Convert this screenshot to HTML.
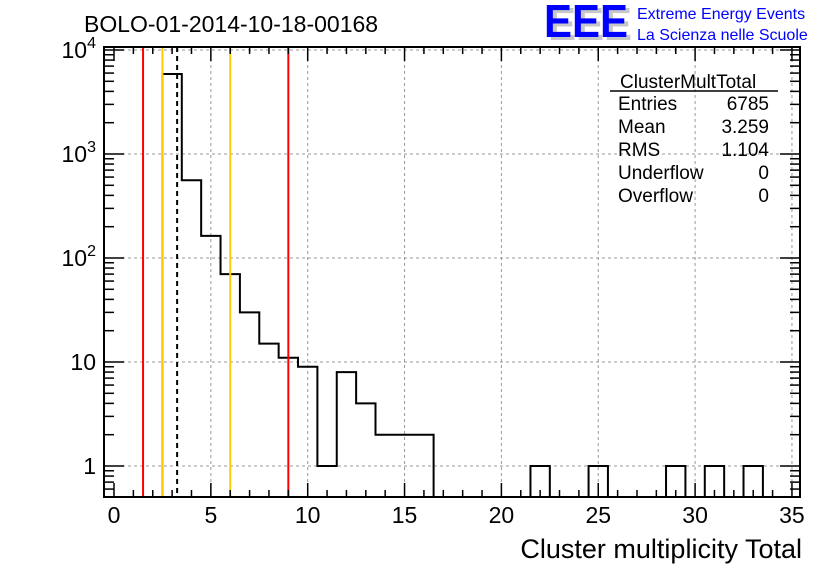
<!DOCTYPE html>
<html><head><meta charset="utf-8"><style>
body{margin:0;background:#fff;}
svg{display:block;font-family:"Liberation Sans",sans-serif;}
</style></head><body>
<svg id="c" width="836" height="572" xmlns="http://www.w3.org/2000/svg">
<rect width="836" height="572" fill="#fff"/>
<text x="84" y="32" font-size="23">BOLO-01-2014-10-18-00168</text>
<g>
<text x="548" y="40" font-size="46" font-weight="bold" fill="#c8c8c8" textLength="84" lengthAdjust="spacingAndGlyphs">EEE</text>
<text x="544" y="37" font-size="46" font-weight="bold" fill="#0000ff" textLength="84" lengthAdjust="spacingAndGlyphs">EEE</text>
<text x="637" y="19" font-size="16" fill="#0000ff">Extreme Energy Events</text>
<text x="637" y="40" font-size="16" fill="#0000ff">La Scienza nelle Scuole</text>
</g>
<g id="grid"></g>
<g id="marks"></g>
<g id="axes"></g>
<g font-size="19">
<text x="620" y="88">ClusterMultTotal</text>
<line x1="610" y1="91" x2="778" y2="91" stroke="#000" stroke-width="1.5"/>
<text x="618" y="110">Entries</text><text x="769" y="110" text-anchor="end">6785</text>
<text x="618" y="133">Mean</text><text x="769" y="133" text-anchor="end">3.259</text>
<text x="618" y="156">RMS</text><text x="769" y="156" text-anchor="end">1.104</text>
<text x="618" y="179">Underflow</text><text x="769" y="179" text-anchor="end">0</text>
<text x="618" y="202">Overflow</text><text x="769" y="202" text-anchor="end">0</text>
</g>
<text x="802" y="558" font-size="27" text-anchor="end">Cluster multiplicity Total</text>
</svg>
<script>
const binCenters=[3,4,5,6,7,8,9,10,11,12,13,14,15,16,22,25,29,31,33];
const binCounts=[5880,560,163,70,30,15,11,9,1,8,4,2,2,2,1,1,1,1,1];
const xTicks=[0,5,10,15,20,25,30,35];
const yTicks=[1,10,100,1000,10000];
const yTickBase=["1","10","10","10","10"];
const yTickExp=["","","2","3","4"];
const redLines=[1.5,9.0];
const orangeLines=[2.5,6.0];
const meanLine=[3.259];

const L=104,R=800,T=47,B=497;
const X=v=>114+v*19.37;
const Y=v=>466-Math.log10(v)*104;
const NS="http://www.w3.org/2000/svg";
function mk(p,tag,at){const e=document.createElementNS(NS,tag);for(const k in at)e.setAttribute(k,at[k]);p.appendChild(e);return e;}
const grid=document.getElementById('grid'),marks=document.getElementById('marks'),axes=document.getElementById('axes');

xTicks.forEach(t=>{if(t===0)return;const g=mk(grid,'line',{x1:X(t),x2:X(t),y1:T,y2:B,stroke:'#999','stroke-dasharray':'3,3'});

});
yTicks.forEach(t=>{const g=mk(grid,'line',{x1:L,x2:R,y1:Y(t),y2:Y(t),stroke:'#999','stroke-dasharray':'3,3'});

});

let d='';let prevEnd=null;
binCenters.forEach((c,i)=>{const x0=X(c-0.5),x1=X(c+0.5),y=Y(binCounts[i]);
if(prevEnd!==null&&Math.abs(prevEnd-(c-0.5))<1e-6){d+=`L${x0},${y}`;}else{if(prevEnd!==null)d+=`L${X(prevEnd)},${B}`;d+=`M${x0},${B}L${x0},${y}`;}
d+=`L${x1},${y}`;prevEnd=c+0.5;});
d+=`L${X(prevEnd)},${B}`;
const h=mk(marks,'path',{d:d,fill:'none',stroke:'#000','stroke-width':2});



redLines.forEach(v=>{const l=mk(marks,'line',{x1:X(v),x2:X(v),y1:T,y2:B,stroke:'#ff0000','stroke-width':2});

});
orangeLines.forEach(v=>{const l=mk(marks,'line',{x1:X(v),x2:X(v),y1:T,y2:B,stroke:'#ffcc00','stroke-width':2});

});
meanLine.forEach(v=>{const l=mk(marks,'line',{x1:X(v),x2:X(v),y1:T,y2:B,stroke:'#000','stroke-width':2,'stroke-dasharray':'5,4'});

});

const fr=mk(axes,'rect',{x:L,y:T,width:R-L,height:B-T,fill:'none',stroke:'#000','stroke-width':2});



for(let v=0;v<=35.001;v+=1){const major=v%5===0;const len=major?14:7;
mk(axes,'line',{x1:X(v),x2:X(v),y1:B,y2:B-len,stroke:'#000','stroke-width':1.5});
mk(axes,'line',{x1:X(v),x2:X(v),y1:T,y2:T+len,stroke:'#000','stroke-width':1.5});}
xTicks.forEach(t=>{const tx=mk(axes,'text',{x:X(t),y:523,'font-size':23,'text-anchor':'middle'});tx.textContent=t;

});
for(let e=-1;e<=4;e++){for(let m=1;m<=9;m++){const v=m*Math.pow(10,e);const y=Y(v);if(y<T||y>B)continue;const len=m===1?20:10;
mk(axes,'line',{x1:L,x2:L+len,y1:y,y2:y,stroke:'#000','stroke-width':1.5});
mk(axes,'line',{x1:R,x2:R-len,y1:y,y2:y,stroke:'#000','stroke-width':1.5});}}
yTicks.forEach((t,i)=>{const tx=mk(axes,'text',{x:96,y:Y(t)+8,'font-size':23,'text-anchor':'end'});


const b=mk(tx,'tspan',{});b.textContent=yTickBase[i];
if(yTickExp[i]){const s=mk(tx,'tspan',{dy:-10,'font-size':16});s.textContent=yTickExp[i];}});
</script>
</body></html>
